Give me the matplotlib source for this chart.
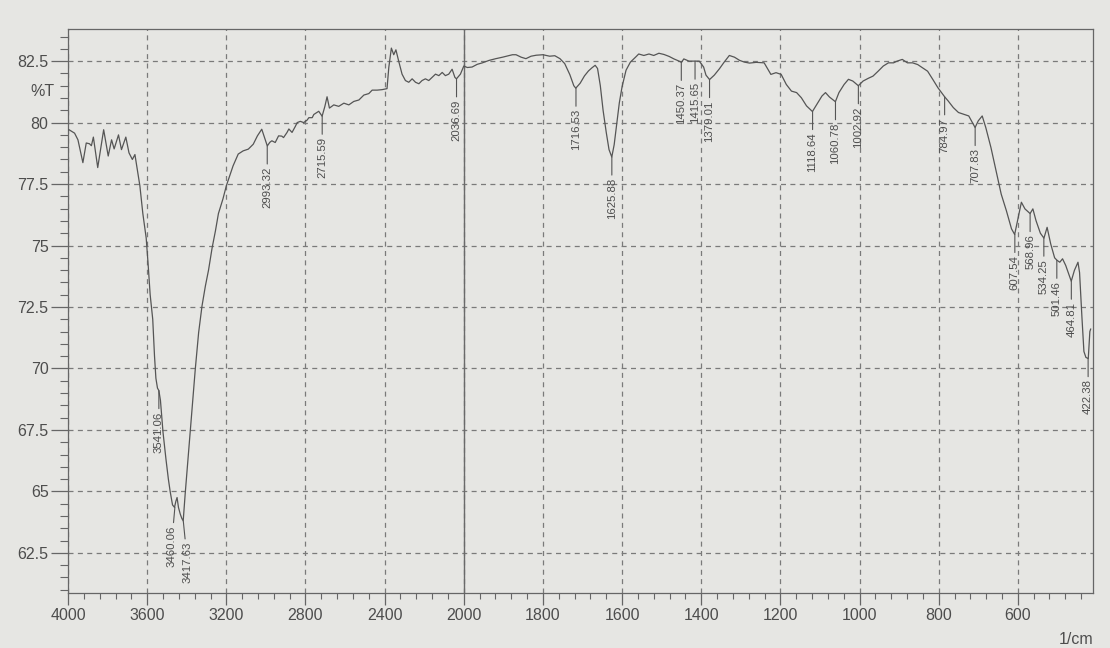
import numpy as np
import matplotlib
matplotlib.use("Agg")
import matplotlib.pyplot as plt
from matplotlib.ticker import FixedLocator

plt.rcParams['font.family'] = ['Liberation Sans', 'DejaVu Sans']

# spectrum (wavenumber 1/cm, %T)
wavenumber = [
    4000, 3995, 3967, 3950, 3925, 3908, 3892, 3882, 3872, 3850, 3820, 3797,
    3780, 3767, 3745, 3730, 3708, 3692, 3675, 3662, 3650, 3637, 3622, 3605,
    3595, 3585, 3572, 3563, 3556, 3548, 3541, 3533, 3520, 3505, 3493, 3484,
    3472, 3462, 3455, 3449, 3442, 3433, 3425, 3418, 3408, 3391, 3374, 3357,
    3340, 3323, 3306, 3290, 3272, 3255, 3240, 3217, 3200, 3183, 3166, 3140,
    3115, 3089, 3064, 3043, 3021, 3004, 2993, 2980, 2970, 2953, 2936, 2920,
    2911, 2894, 2884, 2868, 2851, 2842, 2826, 2809, 2792, 2783, 2766, 2758,
    2733, 2716, 2702, 2691, 2679, 2657, 2632, 2606, 2581, 2556, 2530, 2505,
    2480, 2463, 2438, 2413, 2388, 2379, 2366, 2354, 2343, 2329, 2312, 2295,
    2278, 2261, 2244, 2227, 2211, 2194, 2177, 2160, 2143, 2126, 2109, 2093,
    2076, 2059, 2045, 2037, 2017, 2000, 1991, 1979, 1966, 1953, 1936, 1919,
    1902, 1877, 1868, 1855, 1843, 1830, 1817, 1800, 1783, 1770, 1757, 1745,
    1732, 1722, 1717, 1706, 1695, 1685, 1676, 1668, 1662, 1655, 1648, 1640,
    1633, 1626, 1620, 1614, 1607, 1600, 1590, 1579, 1566, 1558, 1545, 1532,
    1520, 1507, 1494, 1481, 1469, 1456, 1450, 1444, 1431, 1418, 1405, 1394,
    1388, 1379, 1367, 1354, 1342, 1329, 1316, 1303, 1291, 1278, 1261, 1241,
    1224, 1211, 1198, 1185, 1172, 1159, 1147, 1134, 1119, 1108, 1095, 1086,
    1076, 1061, 1052, 1039, 1028, 1017, 1003, 991, 978, 966, 953, 940,
    927, 914, 905, 892, 879, 866, 853, 841, 828, 815, 802, 785,
    776, 763, 750, 737, 724, 708, 700, 690, 681, 668, 655, 642,
    629, 616, 608, 599, 591, 582, 569, 562, 554, 543, 534, 526,
    517, 507, 501, 494, 487, 479, 465, 457, 448, 444, 438, 433,
    428, 422, 418, 416,
]
transmittance = [
    79.70, 79.71, 79.57, 79.30, 78.37, 79.17, 79.14, 79.06, 79.41, 78.17, 79.71, 78.64,
    79.30, 78.93, 79.50, 78.90, 79.41, 78.77, 78.50, 78.70, 78.10, 77.43, 76.30, 75.30,
    74.20, 73.00, 72.00, 70.50, 69.60, 69.20, 69.10, 68.70, 67.40, 66.30, 65.50, 65.00,
    64.45, 64.35, 64.60, 64.75, 64.35, 64.08, 63.90, 63.80, 64.90, 66.60, 68.35, 69.97,
    71.46, 72.54, 73.35, 74.00, 74.90, 75.60, 76.30, 76.90, 77.43, 77.84, 78.24, 78.72,
    78.85, 78.92, 79.12, 79.46, 79.73, 79.32, 79.05, 79.20, 79.26, 79.19, 79.46, 79.45,
    79.39, 79.59, 79.74, 79.60, 79.85, 80.00, 80.05, 80.00, 80.10, 80.20, 80.20, 80.33,
    80.46, 80.26, 80.66, 81.05, 80.59, 80.72, 80.66, 80.79, 80.72, 80.86, 80.92, 81.12,
    81.18, 81.32, 81.32, 81.34, 81.38, 82.24, 83.03, 82.76, 82.96, 82.50, 81.97, 81.71,
    81.64, 81.78, 81.64, 81.58, 81.71, 81.78, 81.71, 81.84, 81.97, 81.91, 82.04, 81.91,
    81.97, 82.17, 81.84, 81.78, 81.97, 82.30, 82.24, 82.26, 82.37, 82.43, 82.53, 82.60,
    82.66, 82.76, 82.76, 82.66, 82.60, 82.70, 82.74, 82.76, 82.70, 82.72, 82.60, 82.40,
    81.95, 81.50, 81.40, 81.60, 81.90, 82.10, 82.23, 82.33, 82.20, 81.50, 80.50, 79.60,
    78.90, 78.60, 79.10, 79.90, 80.80, 81.46, 82.13, 82.46, 82.66, 82.79, 82.73, 82.79,
    82.73, 82.82, 82.77, 82.69, 82.59, 82.50, 82.45, 82.59, 82.50, 82.50, 82.50, 82.26,
    81.93, 81.75, 81.93, 82.19, 82.46, 82.73, 82.66, 82.53, 82.46, 82.42, 82.45, 82.43,
    81.96, 82.03, 81.96, 81.55, 81.28, 81.22, 81.01, 80.68, 80.45, 80.74, 81.08, 81.22,
    81.04, 80.85, 81.22, 81.55, 81.76, 81.69, 81.50, 81.69, 81.80, 81.89, 82.09, 82.30,
    82.43, 82.43, 82.50, 82.57, 82.43, 82.43, 82.36, 82.23, 82.09, 81.76, 81.42, 81.05,
    80.88, 80.61, 80.41, 80.34, 80.27, 79.80, 80.07, 80.27, 79.80, 78.99, 78.04, 77.09,
    76.42, 75.68, 75.45, 76.15, 76.76, 76.49, 76.30, 76.49, 76.01, 75.50, 75.30, 75.74,
    75.07, 74.50, 74.40, 74.32, 74.46, 74.19, 73.55, 73.99, 74.32, 73.90, 72.08, 70.69,
    70.45, 70.40, 71.50, 71.60,
]

# labelled peaks
peak_wn = [3541.06, 3460.06, 3417.63, 2993.32, 2715.59, 2036.69, 1716.53,
           1625.88, 1450.37, 1415.65, 1379.01, 1118.64, 1060.78, 1002.92,
           784.97, 707.83, 607.54, 568.96, 534.25, 501.46, 464.81, 422.38]
peak_t = [69.1, 64.35, 63.8, 79.05, 80.26, 81.78, 81.4,
          78.6, 82.45, 82.5, 81.75, 80.45, 80.85, 81.5,
          81.05, 79.8, 75.45, 76.3, 75.3, 74.4, 73.55, 70.4]

x_major = [4000, 3600, 3200, 2800, 2400, 2000, 1800, 1600, 1400, 1200, 1000, 800, 600]
y_major = [62.5, 65, 67.5, 70, 72.5, 75, 77.5, 80, 82.5]


# printout axis: 4000-2000 drawn at half the scale of 2000-400
def fwd(x):
    x = np.asarray(x, dtype=float)
    return np.where(x > 2000, 2000 + (x - 2000) / 2, x)


def inv(u):
    u = np.asarray(u, dtype=float)
    return np.where(u > 2000, 2000 + (u - 2000) * 2, u)


ink = '#4d4d4d'
paper = '#e6e6e3'

fig = plt.figure(figsize=(11.1, 6.48), dpi=100, facecolor=paper)
ax = fig.add_axes([0.0613, 0.085, 0.9234, 0.870], facecolor=paper)
ax.set_xscale('function', functions=(fwd, inv))

ax.plot(wavenumber, transmittance, color='#555555', lw=0.9, zorder=3)

ax.set_xlim(4000, 410)
ax.set_ylim(60.87, 83.8)

minor_x = [v for v in range(4000, 2000, -80) if v not in x_major] + \
          [v for v in range(2000, 400, -40) if v not in x_major]
ax.xaxis.set_major_locator(FixedLocator(x_major))
ax.xaxis.set_minor_locator(FixedLocator(minor_x))
ax.set_xticklabels([str(v) for v in x_major])
ax.yaxis.set_major_locator(FixedLocator(y_major))
ax.yaxis.set_minor_locator(FixedLocator(np.arange(61.0, 84.0, 0.5)))
ax.set_yticklabels([f'{v:g}' for v in y_major])

ax.tick_params(axis='x', which='major', length=8.5, width=0.9, color='#666666',
               labelsize=11.5, labelcolor=ink, pad=2)
ax.tick_params(axis='x', which='minor', length=4.3, width=0.8, color='#666666')
ax.tick_params(axis='y', which='major', length=12, width=0.9, color='#666666',
               labelsize=11.5, labelcolor=ink, pad=2)
ax.tick_params(axis='y', which='minor', length=6, width=0.8, color='#666666')

ax.grid(which='major', color='#7a7a7a', lw=0.9, ls=(0, (4, 3.5)))
ax.axvline(2000, color='#6a6a6a', lw=1.0, zorder=2)
for s in ax.spines.values():
    s.set_color('#666666')
    s.set_linewidth(0.9)

ax.set_ylabel('%T', rotation=0, fontsize=11.5, color=ink, ha='right', va='center')
ax.yaxis.set_label_coords(-0.013, (81.25 - 60.87) / (83.8 - 60.87))
ax.set_xlabel('1/cm', fontsize=11.5, color=ink, ha='right', va='center')
ax.xaxis.set_label_coords(1.0, -0.083)

# the two labels of the O-H doublet sit apart as on the printout
nudge = {3460.06: (-2.5, -13), 3417.63: (3, -15)}
for wn, t in zip(peak_wn, peak_t):
    ax.annotate(f'{wn:.2f}', xy=(wn, t), xytext=nudge.get(wn, (0, -15)),
                textcoords='offset points',
                rotation=90, ha='center', va='top', fontsize=8.2, color=ink,
                arrowprops=dict(arrowstyle='-', color='#555555', lw=0.8,
                                shrinkA=0, shrinkB=0), zorder=4)

fig.savefig('out.png', dpi=100, facecolor=paper)
